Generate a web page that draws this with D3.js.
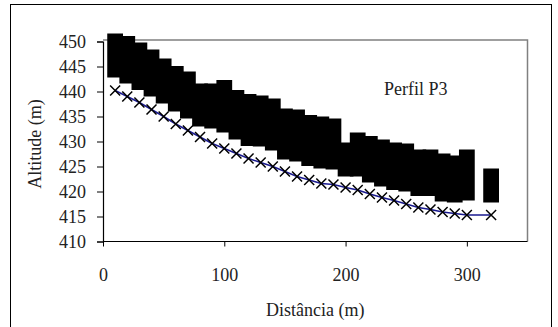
<!DOCTYPE html>
<html lang="pt">
<head>
<meta charset="UTF-8">
<script src="https://d3js.org/d3.v7.min.js"></script>
<style>
  body { margin: 0; background: #fff; }
  svg text { font-family: 'Liberation Serif', 'DejaVu Serif', serif !important; fill: #222; }
</style>
</head>
<body>
<svg width="558" height="327"></svg>
<script>
// distance of each station (m)
const distance = [10, 20, 30, 40, 50, 60, 70, 80, 90, 100, 110, 120, 130, 140, 150, 160,
  170, 180, 190, 200, 210, 220, 230, 240, 250, 260, 270, 280, 290, 300, 320];
// profile altitude (m)
const profile = [440.2, 439.0, 437.8, 436.4, 435.0, 433.5, 432.2, 430.9, 429.6, 428.6, 427.6,
  426.6, 425.8, 425.0, 424.0, 423.0, 422.3, 421.6, 421.4, 420.8, 420.3, 419.5, 418.8, 418.2,
  417.5, 416.8, 416.4, 415.9, 415.6, 415.3, 415.3];
// black bars: upper and lower altitude
const barTop = [451.6, 451.1, 449.8, 448.4, 446.6, 445.1, 444.0, 441.6, 441.6, 442.3, 440.3,
  439.5, 439.2, 438.6, 436.6, 436.4, 435.3, 435.0, 434.6, 429.8, 431.8, 431.1, 430.4, 429.8,
  429.6, 428.4, 428.4, 427.6, 427.2, 428.4, 424.6];
const barBottom = [442.8, 441.6, 440.3, 439.0, 437.6, 436.0, 434.6, 433.0, 432.6, 431.8, 430.4,
  429.1, 429.0, 428.2, 426.4, 426.0, 425.1, 424.6, 424.4, 423.0, 423.0, 421.8, 421.0, 420.3,
  420.0, 419.1, 419.1, 418.0, 417.8, 418.2, 417.8];
const xTicks = [0, 100, 200, 300];
const yTicks = [410, 415, 420, 425, 430, 435, 440, 445, 450];
const label = "Perfil P3";

const svg = d3.select("svg");
const mLeft = 103, mRight = 527.5, mTop = 41.5, mBottom = 241.5;

const x = d3.scaleLinear().domain([0, 350]).range([mLeft, mRight]);
const y = d3.scaleLinear().domain([410, 450]).range([mBottom, mTop]);

// outer frame
svg.append("rect")
  .attr("x", 10.5).attr("y", 4.5)
  .attr("width", 541).attr("height", 330)
  .attr("fill", "none").attr("stroke", "#000");

// plot frame (top/right grey)
svg.append("path")
  .attr("d", `M${mLeft},${mTop - 1.5}H${mRight}V${mBottom}`)
  .attr("fill", "none").attr("stroke", "#808080").attr("stroke-width", 1.5);

// bars
const barW = x(13) - x(0);
svg.append("g").selectAll("rect")
  .data(distance)
  .join("rect")
  .attr("x", (d) => x(d) - barW / 2)
  .attr("width", barW)
  .attr("y", (d, i) => y(barTop[i]))
  .attr("height", (d, i) => y(barBottom[i]) - y(barTop[i]))
  .attr("fill", "#000");

// axes
const xAxis = svg.append("g")
  .attr("transform", `translate(0,${mBottom})`)
  .call(d3.axisBottom(x).tickValues(xTicks).tickSize(5).tickPadding(22));
const yAxis = svg.append("g")
  .attr("transform", `translate(${mLeft},0)`)
  .call(d3.axisLeft(y).tickValues(yTicks).tickSize(6).tickPadding(11));
[xAxis, yAxis].forEach((g) => {
  g.attr("font-family", null).attr("font-size", null);
  g.select(".domain").attr("stroke", "#000").attr("stroke-width", 1.2);
  g.selectAll(".tick line").attr("stroke", "#000");
  g.selectAll("text").attr("font-size", 18).attr("fill", "#222");
});
xAxis.select(".domain").attr("d", `M${mLeft},0H${mRight}`);

// profile line
svg.append("path")
  .datum(distance)
  .attr("fill", "none")
  .attr("stroke", "#1a1a90")
  .attr("stroke-width", 1.5)
  .attr("d", d3.line().x((d) => x(d)).y((d, i) => y(profile[i])));

// x markers
const m = 5;
svg.append("g").selectAll("path")
  .data(distance)
  .join("path")
  .attr("d", (d, i) => {
    const cx = x(d), cy = y(profile[i]);
    return `M${cx - m},${cy - m}L${cx + m},${cy + m}M${cx - m},${cy + m}L${cx + m},${cy - m}`;
  })
  .attr("stroke", "#000")
  .attr("stroke-width", 1.5);

// titles
svg.append("text")
  .attr("x", (mLeft + mRight) / 2).attr("y", 316)
  .attr("text-anchor", "middle").attr("font-size", 18)
  .text("Distância (m)");
svg.append("text")
  .attr("transform", `translate(41,144) rotate(-90)`)
  .attr("text-anchor", "middle").attr("font-size", 18)
  .text("Altitude (m)");
svg.append("text")
  .attr("x", 384).attr("y", 95)
  .attr("font-size", 18)
  .text(label);
</script>
</body>
</html>
